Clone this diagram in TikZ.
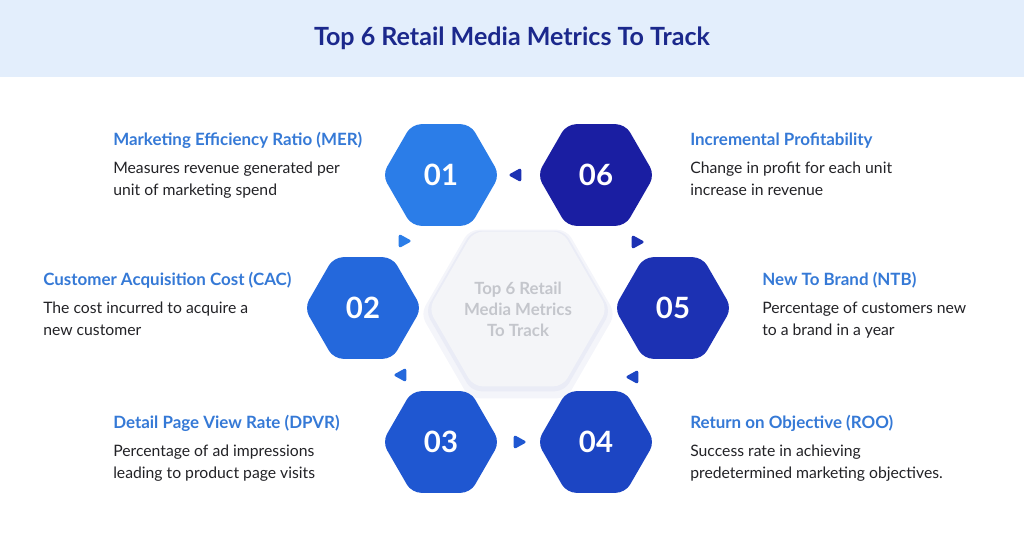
\documentclass[tikz,border=0pt]{standalone}
\usepackage{fontspec}
\setmainfont{Lato}
\usetikzlibrary{shapes.geometric}
\definecolor{band}{RGB}{227,238,252}
\definecolor{navy}{RGB}{27,40,140}
\definecolor{sky}{RGB}{53,121,214}
\definecolor{ink}{RGB}{34,34,38}
\definecolor{hexa1}{RGB}{43,125,232}
\definecolor{hexa2}{RGB}{36,104,220}
\definecolor{hexa3}{RGB}{31,87,209}
\definecolor{hexa4}{RGB}{28,69,195}
\definecolor{hexa5}{RGB}{28,49,179}
\definecolor{hexa6}{RGB}{26,30,162}
\definecolor{core}{RGB}{244,245,248}
\definecolor{glow}{RGB}{234,236,246}
\definecolor{coretext}{RGB}{196,198,204}
\tikzset{
  hexa/.style={regular polygon,regular polygon sides=6,fill=#1,rounded corners=7pt,
    minimum size=88pt,inner sep=0pt,text=white,font=\fontsize{22}{22}\selectfont\bfseries},
  hexa/.default=hexa1,
  tipmark/.style={isosceles triangle,isosceles triangle stretches,fill=#1,
    rounded corners=2pt,minimum width=11pt,minimum height=10pt,inner sep=0pt},
  head/.style={anchor=base west,inner sep=0pt,text=sky,
    font=\fontsize{12.7}{14}\selectfont\bfseries},
  note/.style={anchor=north west,inner sep=0pt,align=left,text=ink,
    font=\fontsize{11.8}{16.5}\selectfont},
}
\begin{document}
\begin{tikzpicture}[x=0.75pt,y=-0.75pt]
  \useasboundingbox (0,0) rectangle (1024,550);
  \fill[band] (0,0) rectangle (1024,77);
  \node[text=navy,font=\fontsize{18.8}{20}\selectfont\bfseries] (title) at (512,38) {Top 6 Retail Media Metrics To Track};

  % centre piece
  \node[hexa=glow!50,minimum size=146pt] (halo2) at (518,314) {};
  \node[hexa=glow,minimum size=139pt] (halo) at (518,311) {};
  \node[hexa=core,minimum size=134pt,text=coretext,align=center,
    font=\fontsize{12.6}{15.8}\selectfont\bfseries] (core) at (518,309) {Top 6 Retail\\Media Metrics\\To Track};

  % numbered hexagons
  \foreach \n/\x/\y in {1/441/175,2/363/308,3/441/442,4/596/442,5/673/308,6/596/175}
    \node[hexa=hexa\n] (h\n) at (\x,\y) {0\n};

  % small markers
  \node[tipmark=hexa5,shape border rotate=180] (m61) at (517,175) {};
  \node[tipmark=hexa1] (m12) at (403,241) {};
  \node[tipmark=hexa2,shape border rotate=180] (m23) at (402,375) {};
  \node[tipmark=hexa3] (m34) at (518,442) {};
  \node[tipmark=hexa5] (m56) at (636,242) {};
  \node[tipmark=hexa4,shape border rotate=180] (m45) at (634,377) {};

  % descriptions
  \node[head] (mer) at (113,145) {Marketing Efficiency Ratio (MER)};
  \node[note] (merd) at (113,162) {Measures revenue generated per\\unit of marketing spend};
  \node[head] (cac) at (43,285) {Customer Acquisition Cost (CAC)};
  \node[note] (cacd) at (43,302) {The cost incurred to acquire a\\new customer};
  \node[head] (dpvr) at (113,428) {Detail Page View Rate (DPVR)};
  \node[note] (dpvrd) at (113,445) {Percentage of ad impressions\\leading to product page visits};
  \node[head] (inc) at (690,145) {Incremental Profitability};
  \node[note] (incd) at (690,162) {Change in profit for each unit\\increase in revenue};
  \node[head] (ntb) at (762,285) {New To Brand (NTB)};
  \node[note] (ntbd) at (762,302) {Percentage of customers new\\to a brand in a year};
  \node[head] (roo) at (690,428) {Return on Objective (ROO)};
  \node[note] (rood) at (690,445) {Success rate in achieving\\predetermined marketing objectives.};
\end{tikzpicture}
\end{document}
